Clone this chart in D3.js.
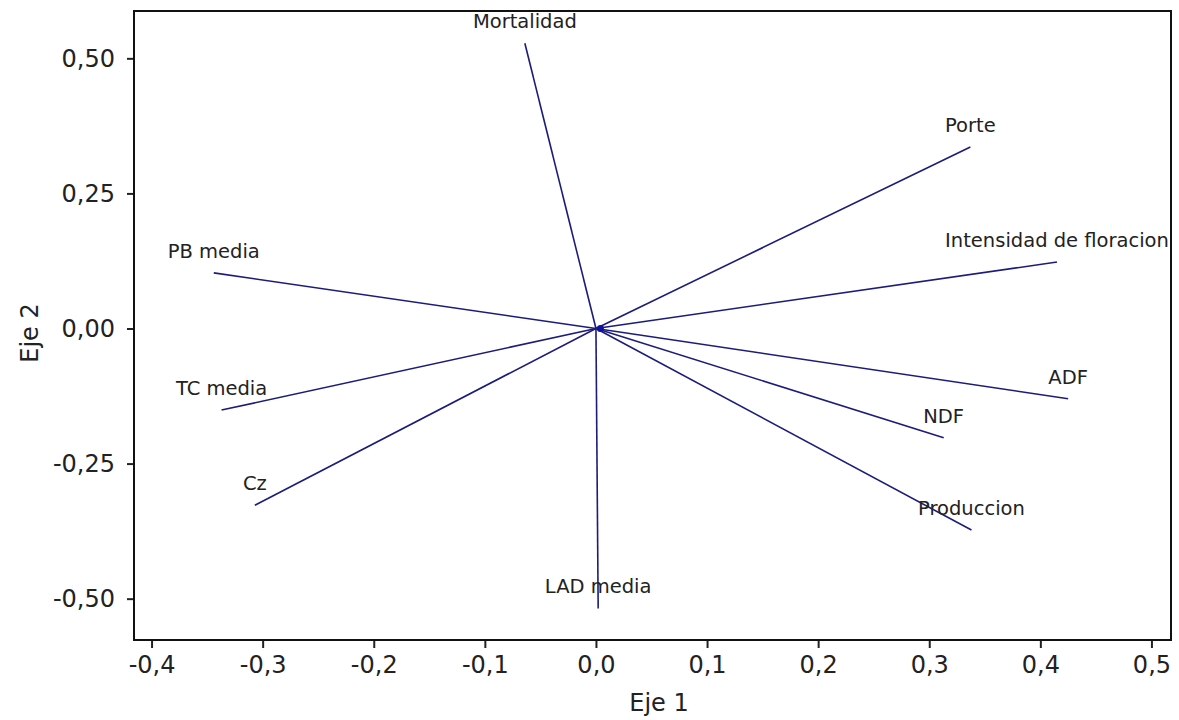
<!DOCTYPE html>
<html>
<head>
<meta charset="utf-8" />
<title>Biplot - Eje 1 / Eje 2</title>
<style>
body { margin: 0; background: #fff; }
#graph { width: 1179px; height: 720px; }
text { font-family: "DejaVu Sans", Verdana, sans-serif; fill: #222; }
.axis path { display: none; }
.axis line { stroke: #222; stroke-width: 2; }
.axis text { font-size: 24px; }
</style>
</head>
<body>
<div id="graph"></div>
<script src="https://d3js.org/d3.v7.min.js"></script>
<script>
// variables (vectors) and their loadings on the two axes
var variables = ["Mortalidad", "Porte", "Intensidad de floracion", "PB media", "TC media",
                 "Cz", "ADF", "NDF", "Produccion", "LAD media"];
var eje1 = [-0.064, 0.337, 0.415, -0.344, -0.337, -0.307, 0.425, 0.313, 0.338, 0.002];
var eje2 = [0.528, 0.336, 0.123, 0.103, -0.151, -0.327, -0.130, -0.202, -0.373, -0.518];

var xTicks = [-0.4, -0.3, -0.2, -0.1, 0.0, 0.1, 0.2, 0.3, 0.4, 0.5];
var yTicks = [-0.50, -0.25, 0.00, 0.25, 0.50];

!(function(){
    "use strict"
    var width = 1179, height = 720;
    var margin = {top: 11, left: 134, right: 8, bottom: 80};
    var chartWidth = width - margin.left - margin.right;
    var chartHeight = height - margin.top - margin.bottom;

    var svg = d3.select("#graph").append("svg")
        .attr("width", width).attr("height", height);
    var chartLayer = svg.append("g")
        .attr("transform", "translate(" + [margin.left, margin.top] + ")");

    var xScale = d3.scaleLinear().domain([-0.4158, 0.5176]).range([0, chartWidth]);
    var yScale = d3.scaleLinear().domain([-0.5765, 0.5876]).range([chartHeight, 0]);

    var comma = function(fmt){ return function(d){ return d3.format(fmt)(d).replace(".", ",").replace("−", "-") } };

    // axes
    chartLayer.append("g")
        .attr("class", "axis x")
        .attr("transform", "translate(0," + chartHeight + ")")
        .call(d3.axisBottom(xScale).tickValues(xTicks).tickSize(8).tickPadding(8).tickFormat(comma(".1f")));

    chartLayer.append("g")
        .attr("class", "axis y")
        .call(d3.axisLeft(yScale).tickValues(yTicks).tickSize(7).tickPadding(12).tickFormat(comma(".2f")));

    // frame
    chartLayer.append("rect")
        .attr("width", chartWidth).attr("height", chartHeight)
        .attr("fill", "none").attr("stroke", "#111").attr("stroke-width", 2);

    var data = variables.map(function(v, i){ return {name: v, x: eje1[i], y: eje2[i]} });

    chartLayer.selectAll(".vec")
        .data(data)
        .enter().append("line").classed("vec", true)
        .attr("x1", xScale(0)).attr("y1", yScale(0))
        .attr("x2", function(d){ return xScale(d.x) })
        .attr("y2", function(d){ return yScale(d.y) })
        .attr("stroke", "#1c1c7a")
        .attr("stroke-width", 1.6);

    chartLayer.append("circle")
        .attr("cx", xScale(0.004)).attr("cy", yScale(0))
        .attr("r", 3.5).attr("fill", "#1010a0");

    chartLayer.selectAll(".lbl")
        .data(data)
        .enter().append("text").classed("lbl", true)
        .attr("x", function(d){ return xScale(d.x) })
        .attr("y", function(d){ return yScale(d.y) - 15 })
        .attr("text-anchor", "middle")
        .style("font-size", "19.5px")
        .text(function(d){ return d.name });

    // axis titles
    svg.append("text")
        .attr("x", 659).attr("y", 711)
        .attr("text-anchor", "middle")
        .style("font-size", "24px")
        .text("Eje 1");

    svg.append("text")
        .attr("transform", "translate(38,333) rotate(-90)")
        .attr("text-anchor", "middle")
        .style("font-size", "24px")
        .text("Eje 2");
}());
</script>
</body>
</html>
